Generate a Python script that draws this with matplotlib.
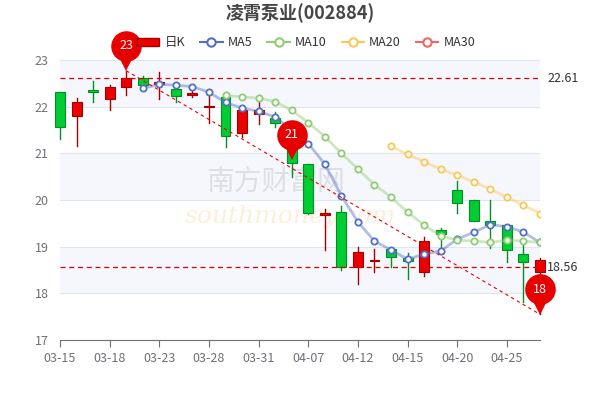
import matplotlib
matplotlib.use("Agg")
import matplotlib.pyplot as plt
import matplotlib.transforms as mtransforms
from matplotlib.patches import Rectangle
from matplotlib.lines import Line2D
import numpy as np

plt.rcParams['font.family'] = ['Noto Sans CJK SC', 'DejaVu Sans']

dates = ["03-15","03-16","03-17","03-18","03-21","03-22","03-23","03-24","03-25","03-28",
         "03-29","03-30","03-31","04-01","04-06","04-07","04-08","04-11","04-12","04-13",
         "04-14","04-15","04-18","04-19","04-20","04-21","04-22","04-25","04-26","04-27"]
opens  = [22.31,21.81,22.36,22.17,22.43,22.62,22.48,22.38,22.24,22.00,
          22.21,21.43,21.84,21.75,21.40,20.77,19.67,19.74,18.56,18.69,
          18.95,18.76,18.45,19.35,20.21,19.99,19.56,19.46,18.85,18.45]
closes = [21.57,22.09,22.31,22.43,22.62,22.47,22.52,22.23,22.29,22.01,
          21.38,21.93,21.93,21.66,20.79,19.72,19.73,18.56,18.88,18.70,
          18.77,18.70,19.12,19.27,19.93,19.55,19.46,18.92,18.67,18.71]
highs  = [22.31,22.19,22.56,22.46,22.77,22.65,22.75,22.50,22.46,22.25,
          22.29,21.96,22.26,21.89,21.50,20.77,19.80,19.88,18.99,18.94,
          18.95,18.86,19.20,19.39,20.41,19.99,19.99,19.46,19.07,18.76]
lows   = [21.31,21.16,22.11,21.93,22.26,22.47,22.16,22.11,22.20,21.66,
          21.14,21.34,21.63,21.56,20.50,19.70,18.93,18.51,18.21,18.46,
          18.56,18.30,18.38,18.93,19.72,19.55,18.97,18.68,17.82,17.55]
ma5  = [None]*5 + [22.39,22.48,22.46,22.43,22.31,22.09,21.97,21.90,21.78,21.50,
                   21.21,20.77,20.09,19.53,19.12,18.93,18.73,18.84,18.91,19.16,
                   19.31,19.47,19.43,19.31,19.09]
ma10 = [None]*10 + [22.24,22.21,22.18,22.11,21.92,21.66,21.36,21.00,20.66,20.33,
                    20.06,19.74,19.46,19.23,19.14,19.12,19.09,19.14,19.12,19.09]
ma20 = [None]*20 + [21.15,20.98,20.82,20.66,20.53,20.39,20.23,20.06,19.89,19.71]
hlines = [22.61, 18.56]
pins = [(4, 22.77, "23"), (14, 20.86, "21"), (29, 17.55, "18")]

UP, DOWN = "#eb0000", "#00cc33"
UPE, DOWNE = "#a50000", "#008f23"

fig = plt.figure(figsize=(6, 4), dpi=100)
ax = fig.add_axes([0.1, 0.15, 0.8, 0.7])
ax.set_xlim(0, 29)
ax.set_ylim(17, 23)
for lo in (18, 20, 22):
    ax.axhspan(lo, lo + 1, color="#f5f7fc", zorder=0, lw=0)
for y in range(17, 24):
    ax.axhline(y, color="#e0e6f1", lw=0.8, zorder=0.5)

ax.text(0.45, 0.56, "南方财富网", transform=ax.transAxes, fontsize=20, color="#bbbbbb",
        alpha=0.4, ha="center", va="center", zorder=0.6)
ax.text(0.48, 0.44, "southmoney.com", transform=ax.transAxes, fontsize=18, color="#f5c98a",
        alpha=0.3, ha="center", va="center", style="italic", zorder=0.6, family="DejaVu Serif")

w = 0.6
for i in range(len(dates)):
    o, c, h, l = opens[i], closes[i], highs[i], lows[i]
    up = c >= o
    fc, ec = (UP, UPE) if up else (DOWN, DOWNE)
    ax.plot([i, i], [l, h], color=ec, lw=1, zorder=2, clip_on=False)
    ax.add_patch(Rectangle((i - w / 2, min(o, c)), w, max(abs(c - o), 0.02),
                           facecolor=fc, edgecolor=ec, lw=0.8, zorder=3, clip_on=False))

def plot_ma(vals, color):
    xs = [i for i, v in enumerate(vals) if v is not None]
    ys = [v for v in vals if v is not None]
    ax.plot(xs, ys, color=color, lw=2, alpha=0.45, zorder=4)
    ax.plot(xs, ys, ls="none", marker="o", ms=4.5, mfc="white", mec=color, mew=1.3, zorder=5)

plot_ma(ma5, "#5470c6")
plot_ma(ma10, "#91cc75")
plot_ma(ma20, "#fac858")

for v in hlines:
    ax.axhline(v, color="#dd0000", lw=0.9, ls=(0, (4, 3)), zorder=6)
    ax.text(1.015, v, f"{v:.2f}", transform=ax.get_yaxis_transform(), va="center",
            ha="left", fontsize=9, color="#333333")
ax.plot([4, 29], [highs[4], lows[29]], color="#ee0000", lw=0.8, ls=(0, (3, 3)), zorder=6)

for i, v, t in pins:
    tr = mtransforms.offset_copy(ax.transData, fig=fig, x=0, y=18, units="points")
    tr2 = mtransforms.offset_copy(ax.transData, fig=fig, x=0, y=7, units="points")
    ax.plot(i, v, marker="v", ms=14, color="#e60000", transform=tr2, clip_on=False, zorder=8, mew=0)
    ax.plot(i, v, marker="o", ms=22, color="#e60000", transform=tr, clip_on=False, zorder=8, mew=0)
    ax.text(i, v, t, transform=tr, ha="center", va="center", color="white", fontsize=9,
            zorder=9, clip_on=False)

for s in ("top", "right", "left"):
    ax.spines[s].set_visible(False)
ax.spines["bottom"].set_color("#6e7079")
ax.set_xticks(range(0, 30, 3))
ax.set_xticklabels(dates[::3])
ax.tick_params(axis="x", colors="#6e7079", labelcolor="#6e7079", labelsize=9, length=5)
ax.set_yticks(range(17, 24))
ax.tick_params(axis="y", length=0, labelcolor="#6e7079", labelsize=9, pad=8)

fig.text(0.5, 0.968, "凌霄泵业(002884)", ha="center", va="center", fontsize=13,
         color="#464646", fontweight="bold")

handles = [Rectangle((0, 0), 1, 1, facecolor=UP, edgecolor=UPE)]
for c in ("#5470c6", "#91cc75", "#fac858", "#ee6666"):
    handles.append(Line2D([], [], color=c, lw=1.5, marker="o", ms=6, mfc="white", mec=c, mew=1.5))
fig.legend(handles, ["日K", "MA5", "MA10", "MA20", "MA30"], loc="center", ncol=5,
           bbox_to_anchor=(0.51, 0.893), frameon=False, fontsize=9, handlelength=1.8,
           columnspacing=1.2, handletextpad=0.4, labelcolor="#333333")

fig.savefig("out.png", dpi=100)
